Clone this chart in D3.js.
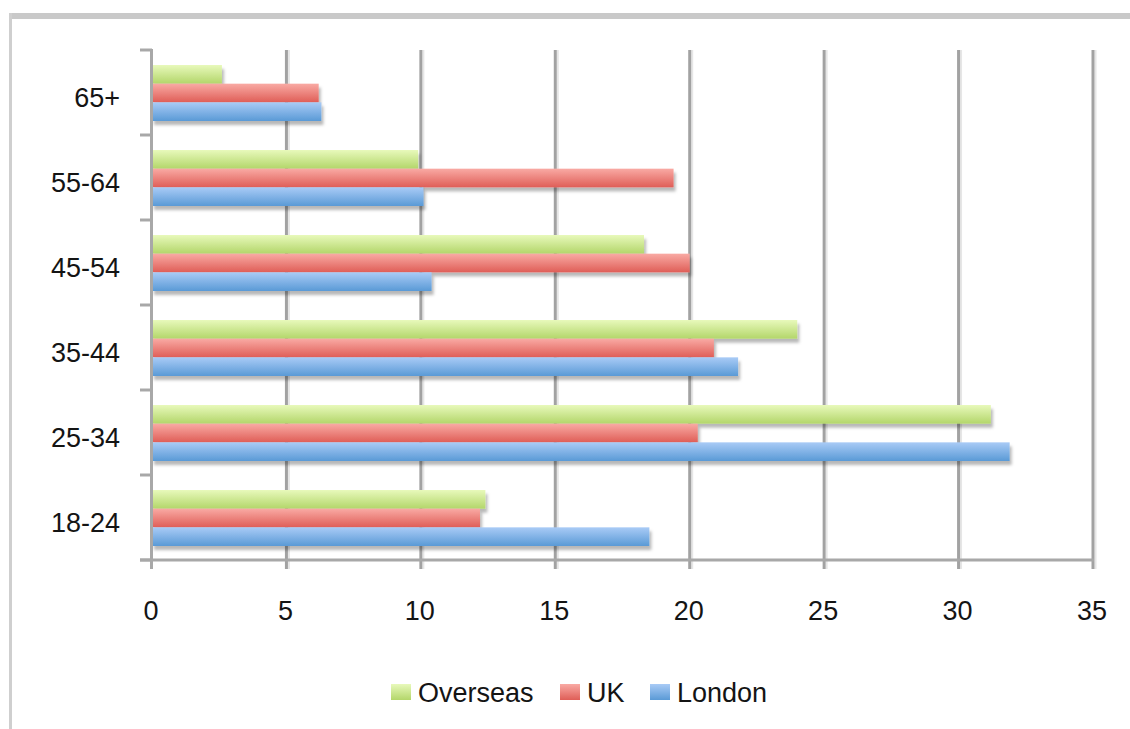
<!DOCTYPE html>
<html><head><meta charset="utf-8">
<script src="https://cdn.jsdelivr.net/npm/d3@7"></script>
<style>html,body{margin:0;padding:0;background:#fff;}svg{display:block;}</style>
</head><body>
<script>
const categories = ["65+","55-64","45-54","35-44","25-34","18-24"];
const seriesNames = ["Overseas","UK","London"];
const overseas = [2.6, 9.9, 18.3, 24.0, 31.2, 12.4];
const uk       = [6.2, 19.4, 20.0, 20.9, 20.3, 12.2];
const london   = [6.3, 10.1, 10.4, 21.8, 31.9, 18.5];
const xTicks = [0,5,10,15,20,25,30,35];

const W = 1130, H = 729;
const svg = d3.select("body").append("svg").attr("width", W).attr("height", H);
const defs = svg.append("defs");
const grads = {
  Overseas: ["#e8f9bb", "#b3d66a"],
  UK: ["#f9aaa4", "#df5e57"],
  London: ["#a9cbf6", "#5a9ad6"]
};
Object.entries(grads).forEach(([k, c]) => {
  const g = defs.append("linearGradient").attr("id", "g" + k).attr("x1", 0).attr("y1", 0).attr("x2", 0).attr("y2", 1);
  g.append("stop").attr("offset", "0%").attr("stop-color", c[0]);
  g.append("stop").attr("offset", "100%").attr("stop-color", c[1]);
});
const f = defs.append("filter").attr("id", "sh").attr("x", "-5%").attr("y", "-30%").attr("width", "115%").attr("height", "180%");
f.append("feDropShadow").attr("dx", 2).attr("dy", 4).attr("stdDeviation", 1.8).attr("flood-color", "#000").attr("flood-opacity", 0.28);

// frame
svg.append("rect").attr("x", 9).attr("y", 13).attr("width", W - 9).attr("height", 6).attr("fill", "#c9c9c9");
svg.append("rect").attr("x", 9).attr("y", 13).attr("width", 3).attr("height", H - 13).attr("fill", "#cfcfcf");

const x = d3.scaleLinear().domain([0, 35]).range([152, 1093]);
const y = d3.scaleBand().domain(categories).range([50, 560]).padding(0);
const yIn = d3.scaleBand().domain(seriesNames).range([15, y.bandwidth() - 14]).padding(0);
const seriesVals = { Overseas: overseas, UK: uk, London: london };

// gridlines
const grid = svg.append("g");
xTicks.forEach(t => {
  if (t === 0) return;
  grid.append("line").attr("x1", x(t) + 2.5).attr("x2", x(t) + 2.5).attr("y1", 50).attr("y2", 569)
    .attr("stroke", "#e6e6e6").attr("stroke-width", 2);
  grid.append("line").attr("x1", x(t)).attr("x2", x(t)).attr("y1", 50).attr("y2", 569)
    .attr("stroke", "#a2a2a2").attr("stroke-width", 3);
});

// bars
const bars = svg.append("g");
categories.forEach((c, i) => {
  seriesNames.forEach(s => {
    bars.append("rect")
      .attr("x", x(0)).attr("y", y(c) + yIn(s))
      .attr("width", x(seriesVals[s][i]) - x(0)).attr("height", yIn.bandwidth())
      .attr("fill", "url(#g" + s + ")").attr("filter", "url(#sh)");
  });
});

// axes
const ax = svg.append("g");
ax.append("line").attr("x1", 140).attr("x2", 1094).attr("y1", 560).attr("y2", 560).attr("stroke", "#a8a8a8").attr("stroke-width", 3);
ax.append("line").attr("x1", 151.5).attr("x2", 151.5).attr("y1", 49).attr("y2", 569).attr("stroke", "#a8a8a8").attr("stroke-width", 3);
const bounds = categories.map(c => y(c)).concat([y.range()[1]]);
bounds.forEach(b => {
  ax.append("line").attr("x1", 140).attr("x2", 152).attr("y1", b).attr("y2", b).attr("stroke", "#a8a8a8").attr("stroke-width", 3);
});

const font = "'Liberation Sans', Arial, sans-serif";
const fs = 27;
// y labels
svg.append("g").selectAll("text").data(categories).join("text")
  .attr("x", 120).attr("y", d => y(d) + y.bandwidth() / 2 + 14)
  .attr("text-anchor", "end").attr("font-family", font).attr("font-size", fs).attr("fill", "#141414")
  .text(d => d);
// x labels
svg.append("g").selectAll("text").data(xTicks).join("text")
  .attr("x", d => x(d) - 1).attr("y", 620)
  .attr("text-anchor", "middle").attr("font-family", font).attr("font-size", fs).attr("fill", "#141414")
  .text(d => d);

// legend
const legX = { Overseas: 391, UK: 560, London: 650 };
const lg = svg.append("g");
seriesNames.forEach(s => {
  lg.append("rect").attr("x", legX[s]).attr("y", 684).attr("width", 20).attr("height", 16).attr("fill", "url(#g" + s + ")");
  lg.append("text").attr("x", legX[s] + 27).attr("y", 702).attr("font-family", font).attr("font-size", fs).attr("fill", "#141414").text(s);
});
</script>
</body></html>
